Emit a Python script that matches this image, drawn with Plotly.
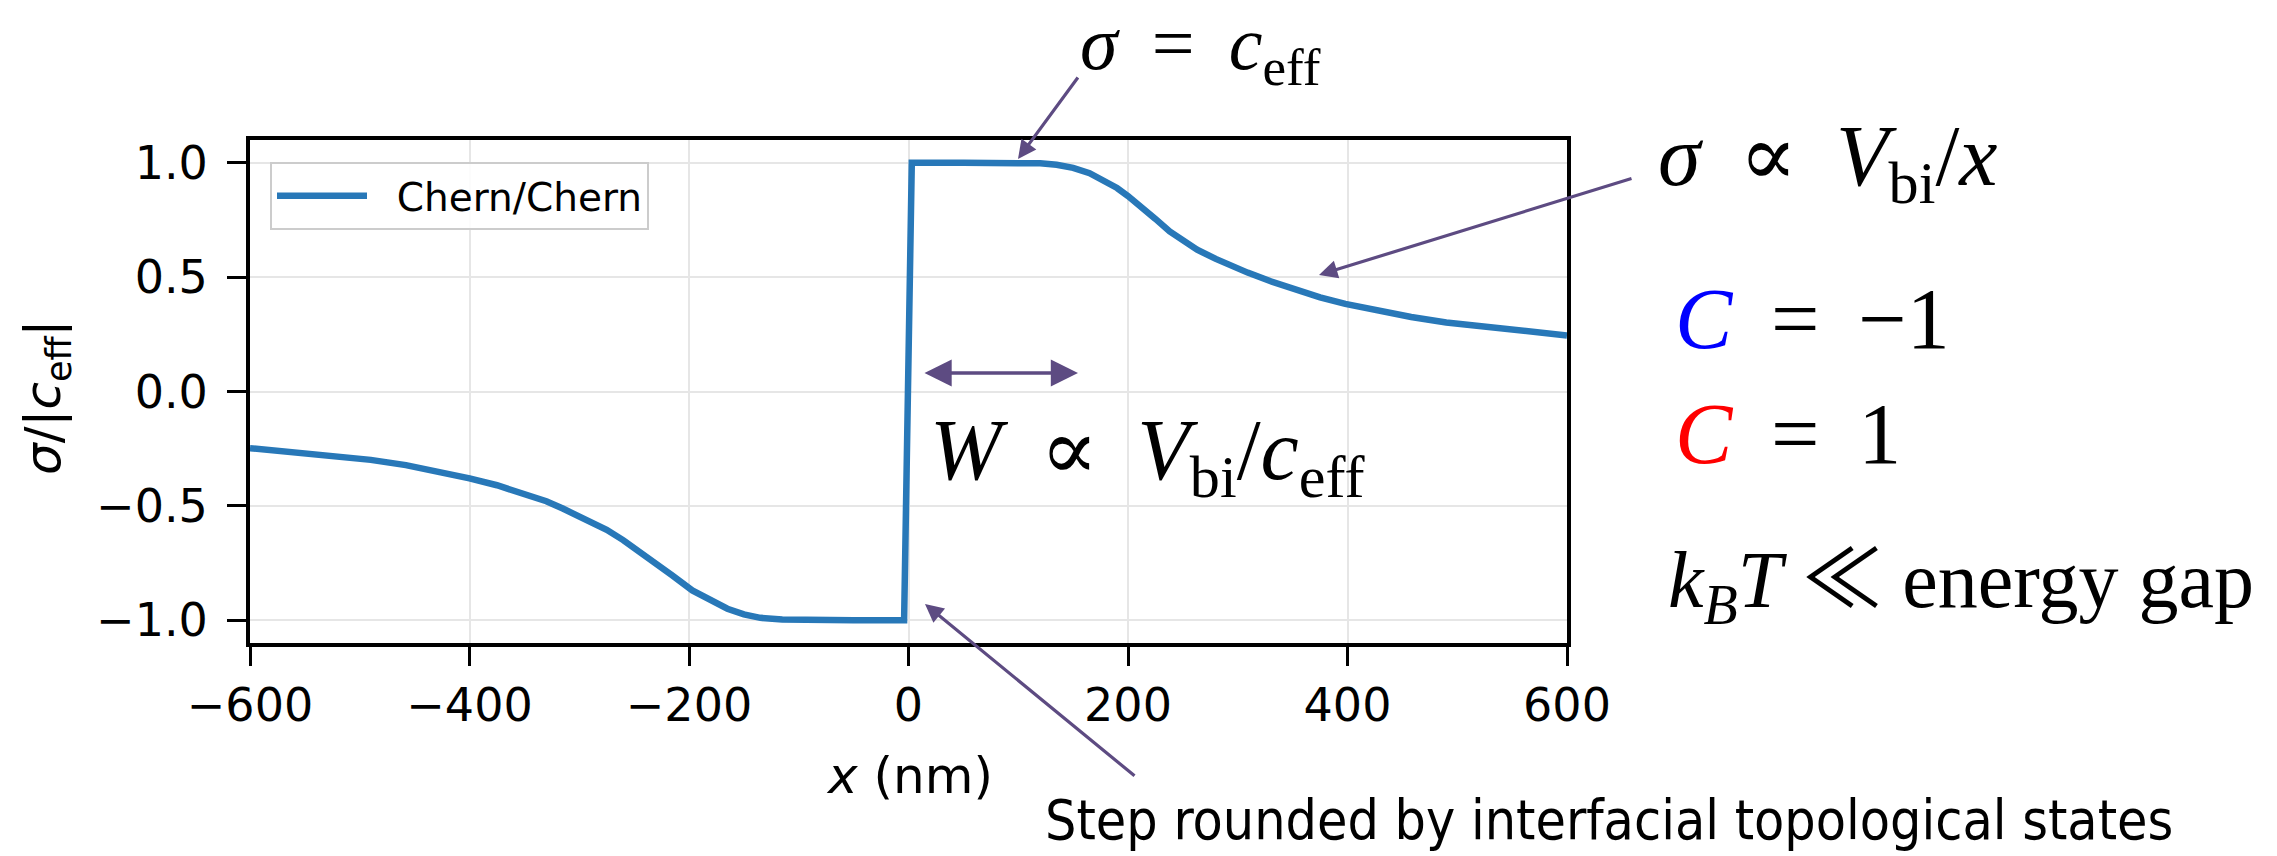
import plotly.graph_objects as go

# ---- data ----
x_nm = [-600, -565, -528, -490, -458, -425, -400, -375, -350, -330, -315, -295, -275,
        -260, -248, -234, -215, -197, -180, -165, -150, -135, -115, -90, -50, -4,
        3, 50, 100, 120, 135, 150, 165, 178, 190, 200, 212, 225, 238, 250, 263, 280,
        295, 309, 330, 351, 375, 398, 425, 458, 490, 528, 565, 600]
sigma_norm = [-0.248, -0.263, -0.280, -0.299, -0.322, -0.352, -0.380, -0.410, -0.445,
              -0.480, -0.512, -0.556, -0.605, -0.650, -0.690, -0.740, -0.805, -0.870,
              -0.915, -0.950, -0.975, -0.990, -0.997, -1.0, -1.0, -1.0,
              1.0, 1.0, 1.0, 0.998, 0.992, 0.978, 0.955, 0.925, 0.890, 0.855, 0.810,
              0.755, 0.700, 0.660, 0.620, 0.580, 0.548, 0.520, 0.482, 0.448, 0.412,
              0.383, 0.355, 0.326, 0.302, 0.280, 0.262, 0.245]
series_name = "Chern/Chern"
x_ticks = [-600, -400, -200, 0, 200, 400, 600]
y_ticks = [-1.0, -0.5, 0.0, 0.5, 1.0]

W, H = 2277, 856
L, R, T, B = 250, 1567, 140, 643   # plot area in pixels


def px(xp):
    return (xp - L) / (R - L)


def py(yp):
    return (B - yp) / (B - T)


SANS = "DejaVu Sans"
SERIF = "Liberation Serif, DejaVu Serif, serif"
ARROW = "#5d4b82"
SP = " \u2009"   # relation spacing

fig = go.Figure()
fig.add_trace(go.Scatter(x=x_nm, y=sigma_norm, mode="lines",
                         name="\u00a0\u00a0" + series_name,
                         line=dict(color="#2878b8", width=6.5)))

annotations = []


def text_ann(xp, yp, text, size, font=SERIF, xanchor="center", yanchor="middle",
             color="black", angle=0, pad=1):
    annotations.append(dict(x=px(xp), y=py(yp), xref="paper", yref="paper", text=text,
                            showarrow=False, xanchor=xanchor, yanchor=yanchor,
                            borderpad=pad,
                            font=dict(family=font, size=size, color=color),
                            textangle=angle))


def arrow(tail, head, width=3.2, size=1.15, both=False):
    annotations.append(dict(x=px(head[0]), y=py(head[1]), xref="paper", yref="paper",
                            ax=tail[0] - head[0], ay=tail[1] - head[1],
                            axref="pixel", ayref="pixel", text="", showarrow=True,
                            arrowhead=2, arrowsize=size, arrowwidth=width,
                            arrowcolor=ARROW,
                            arrowside="end+start" if both else "end",
                            startarrowhead=2, startarrowsize=size))


# axis titles
text_ann(909, 776, "<i>x</i> (nm)", 50, font=SANS)
text_ann(46, 397, "<i>σ</i>/|<i>c</i><sub>eff</sub>|", 50, font=SANS, angle=-90)

# math annotations
text_ann(1200, 0, "<i>σ</i>" + SP + "=" + SP + "<i>c</i><sub>eff</sub>", 76,
         yanchor="top", pad=0)
text_ann(1656, 162, "<i>σ</i>" + SP + "∝" + SP + "<i>V</i><sub>bi</sub>/<i>x</i>", 86,
         xanchor="left")
text_ann(928, 456, "<i>W</i>" + SP + "∝" + SP +
         "<i>V</i><sub>bi</sub>/<i>c</i><sub>eff</sub>", 86, xanchor="left")
text_ann(1673, 319, "<i><span style='color:#0000ff'>C</span></i>" + SP + "=" + SP + "−1",
         86, xanchor="left")
text_ann(1673, 434, "<i><span style='color:#ff0000'>C</span></i>" + SP + "=" + SP + "1",
         86, xanchor="left")
text_ann(1666, 575, "<i>k</i><sub><i>B</i></sub><i>T</i> "
         "<span style='font-family:Noto Sans CJK JP'>≪</span> energy gap", 80,
         xanchor="left")
text_ann(1609, 820, "Step rounded by interfacial topological states", 55,
         font="Liberation Sans Narrow, DejaVu Sans Condensed, Lato")

# arrows
arrow((1079, 76), (1018, 159))
arrow((1633, 178), (1319, 275))
arrow((1136, 777), (925, 604))
arrow((923, 373), (1078, 373), width=3.4, size=1.6, both=True)

axis_common = dict(showline=True, linecolor="black", linewidth=4, mirror=True,
                   ticks="outside", ticklen=19, tickwidth=3, tickcolor="black",
                   showgrid=True, gridcolor="#e6e6e6", gridwidth=2, zeroline=False,
                   tickfont=dict(family=SANS, size=46, color="black"))

fig.update_layout(
    width=W, height=H, autosize=False,
    margin=dict(l=L, r=W - R, t=T, b=H - B, pad=0),
    paper_bgcolor="white", plot_bgcolor="white",
    showlegend=True,
    legend=dict(x=px(270), y=py(162), xanchor="left", yanchor="top",
                bgcolor="rgba(255,255,255,0.85)", bordercolor="#cccccc", borderwidth=2,
                font=dict(family=SANS, size=39, color="black"), itemwidth=90),
    annotations=annotations,
)
fig.update_xaxes(range=[-600, 600], tickvals=x_ticks, ticklabelstandoff=0, **axis_common)
fig.update_yaxes(range=[-1.1, 1.1], tickvals=y_ticks, tickformat=".1f",
                 ticklabelstandoff=10, **axis_common)

fig.write_html("out.html", config={"displayModeBar": False},
               post_script="document.body.style.margin='0';")
